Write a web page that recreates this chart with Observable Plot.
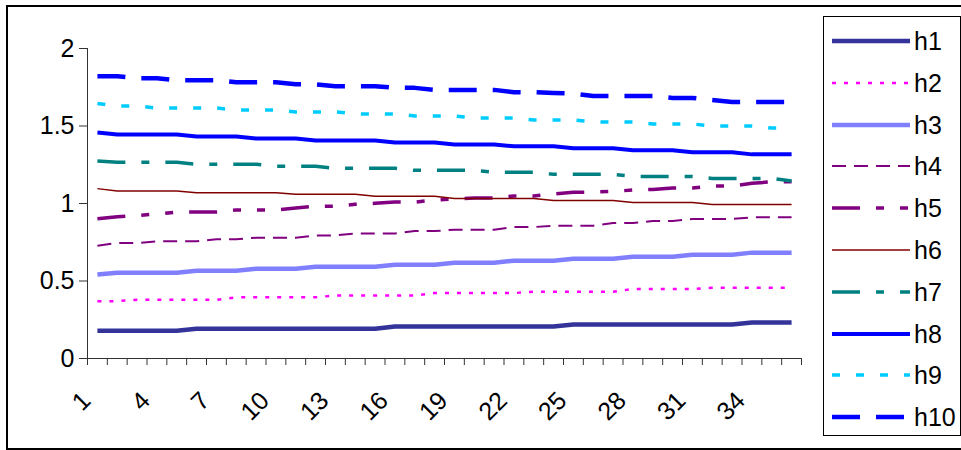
<!DOCTYPE html>
<html><head><meta charset="utf-8">
<script src="https://cdn.jsdelivr.net/npm/d3@7"></script>
<script src="https://cdn.jsdelivr.net/npm/@observablehq/plot@0.6"></script>
<style>
body{margin:0;background:#fff;}
#wrap{position:relative;width:961px;height:450px;overflow:hidden;font-family:"Liberation Sans",Arial,sans-serif;}
#outer{position:absolute;left:6px;top:5px;width:1000px;height:445px;border:2px solid #000;box-sizing:border-box;pointer-events:none;}
#chart{position:absolute;left:0;top:0;}
#legend{position:absolute;left:823px;top:16px;width:138px;height:420px;border:1px solid #000;box-sizing:border-box;background:#fff;}
.item{position:absolute;left:0;height:30px;}
.item svg{position:absolute;left:7px;top:0;}
.item span{position:absolute;left:90px;top:0;line-height:30px;font-size:25px;color:#000;}
</style></head>
<body><div id="wrap"><div id="chart"></div><div id="legend"></div><div id="outer"></div></div>
<script>
const categories = [1,2,3,4,5,6,7,8,9,10,11,12,13,14,15,16,17,18,19,20,21,22,23,24,25,26,27,28,29,30,31,32,33,34,35,36];
const xTickLabels = [1,4,7,10,13,16,19,22,25,28,31,34];
const yTicks = [0,0.5,1,1.5,2];
const seriesNames = ["h1","h2","h3","h4","h5","h6","h7","h8","h9","h10"];

const h1 = [0.179,0.179,0.179,0.179,0.179,0.192,0.192,0.192,0.192,0.192,0.192,0.192,0.192,0.192,0.192,0.207,0.207,0.207,0.207,0.207,0.207,0.207,0.207,0.207,0.220,0.220,0.220,0.220,0.220,0.220,0.220,0.220,0.220,0.232,0.232,0.232];
const h2 = [0.370,0.370,0.379,0.379,0.379,0.379,0.379,0.395,0.395,0.395,0.395,0.395,0.407,0.407,0.407,0.407,0.407,0.422,0.422,0.422,0.422,0.422,0.431,0.431,0.431,0.431,0.431,0.448,0.448,0.448,0.448,0.457,0.457,0.457,0.457,0.457];
const h3 = [0.542,0.553,0.553,0.553,0.553,0.566,0.566,0.566,0.579,0.579,0.579,0.592,0.592,0.592,0.592,0.605,0.605,0.605,0.618,0.618,0.618,0.631,0.631,0.631,0.644,0.644,0.644,0.657,0.657,0.657,0.670,0.670,0.670,0.683,0.683,0.683];
const h4 = [0.728,0.745,0.745,0.756,0.756,0.756,0.770,0.770,0.779,0.779,0.779,0.794,0.794,0.807,0.807,0.807,0.822,0.822,0.831,0.831,0.831,0.848,0.848,0.857,0.857,0.857,0.874,0.874,0.887,0.887,0.900,0.900,0.900,0.911,0.911,0.911];
const h5 = [0.902,0.914,0.923,0.932,0.945,0.945,0.945,0.958,0.958,0.958,0.971,0.982,0.982,0.995,1.001,1.009,1.009,1.022,1.030,1.035,1.035,1.048,1.048,1.062,1.072,1.074,1.078,1.087,1.091,1.100,1.100,1.113,1.113,1.130,1.140,1.140];
const h6 = [1.096,1.080,1.080,1.080,1.080,1.070,1.070,1.070,1.070,1.070,1.059,1.059,1.059,1.059,1.046,1.046,1.046,1.046,1.033,1.033,1.033,1.033,1.033,1.020,1.020,1.020,1.020,1.007,1.007,1.007,1.007,0.994,0.994,0.994,0.994,0.994];
const h7 = [1.274,1.266,1.266,1.266,1.266,1.253,1.253,1.253,1.253,1.240,1.240,1.240,1.227,1.227,1.227,1.227,1.214,1.214,1.214,1.214,1.201,1.201,1.201,1.188,1.188,1.188,1.188,1.175,1.175,1.175,1.175,1.162,1.162,1.162,1.162,1.145];
const h8 = [1.458,1.445,1.445,1.445,1.445,1.432,1.432,1.432,1.419,1.419,1.419,1.406,1.406,1.406,1.406,1.393,1.393,1.393,1.380,1.380,1.380,1.369,1.369,1.369,1.356,1.356,1.356,1.343,1.343,1.343,1.330,1.330,1.330,1.317,1.317,1.317];
const h9 = [1.645,1.629,1.629,1.616,1.616,1.616,1.616,1.603,1.603,1.603,1.591,1.591,1.591,1.578,1.578,1.578,1.565,1.565,1.565,1.552,1.552,1.552,1.539,1.539,1.539,1.526,1.526,1.526,1.513,1.513,1.513,1.500,1.500,1.500,1.487,1.487];
const h10 = [1.821,1.821,1.808,1.808,1.795,1.795,1.795,1.782,1.782,1.782,1.769,1.769,1.757,1.757,1.757,1.746,1.746,1.733,1.733,1.733,1.733,1.718,1.718,1.713,1.709,1.694,1.694,1.694,1.694,1.681,1.681,1.668,1.655,1.655,1.655,1.655];

const seriesValues = [h1,h2,h3,h4,h5,h6,h7,h8,h9,h10];

const styles = {
  h1:{stroke:"#333399", width:4.5, dash:null},
  h2:{stroke:"#FF00FF", width:2.5, dash:"4,8"},
  h3:{stroke:"#8080FF", width:4.5, dash:null},
  h4:{stroke:"#800080", width:2, dash:"14,8"},
  h5:{stroke:"#800080", width:3.5, dash:"28,16,8,16,8,16"},
  h6:{stroke:"#800000", width:1.5, dash:null},
  h7:{stroke:"#008080", width:3.5, dash:"28,16,8,16"},
  h8:{stroke:"#0000FF", width:4, dash:null},
  h9:{stroke:"#00CCFF", width:3.5, dash:"8,16"},
  h10:{stroke:"#0000FF", width:4.5, dash:"28,16"}
};

const rows = seriesNames.flatMap((name, i) => categories.map((c, j) => ({series: name, x: c, y: seriesValues[i][j]})));
const boundaries = categories.map(c => c - 0.5).concat([categories[categories.length - 1] + 0.5]);

const plot = Plot.plot({
  width: 961, height: 450,
  marginLeft: 87, marginRight: 160, marginTop: 48, marginBottom: 92,
  style: {fontFamily: "'Liberation Sans', Arial, sans-serif", fontSize: "25px", background: "transparent", color: "#000"},
  x: {type: "linear", domain: [boundaries[0], boundaries[boundaries.length - 1]], label: null},
  y: {domain: [0, 2], label: null},
  marks: [
    Plot.ruleY([0], {stroke: "#333", strokeWidth: 1}),
    Plot.ruleX([boundaries[0]], {stroke: "#333", strokeWidth: 1}),
    Plot.axisY({ticks: yTicks, tickSize: 8, tickPadding: 5, tickFormat: d => String(d), stroke: "#333", fill: "#000", label: null}),
    Plot.axisX({ticks: boundaries, tickSize: 7, tickFormat: () => "", stroke: "#333", label: null}),
    Plot.axisX({ticks: xTickLabels, tickSize: 0, tickPadding: 28, tickRotate: -45, tickFormat: d => String(d), fill: "#000", label: null, dx: -11, dy: 10}),
    ...seriesNames.map(name => Plot.line(rows.filter(d => d.series === name), {
      x: "x", y: "y",
      stroke: styles[name].stroke,
      strokeWidth: styles[name].width,
      strokeDasharray: styles[name].dash,
      strokeLinecap: "butt",
      strokeLinejoin: "round"
    }))
  ]
});
document.getElementById("chart").appendChild(plot);

const legend = document.getElementById("legend");
seriesNames.forEach((name, i) => {
  const s = styles[name];
  const item = document.createElement("div");
  item.className = "item";
  item.style.top = (9 + i * 41.8) + "px";
  item.innerHTML = `<svg width="80" height="30"><line x1="1" x2="79" y1="15" y2="15" stroke="${s.stroke}" stroke-width="${s.width}" ${s.dash ? `stroke-dasharray="${s.dash}"` : ""} stroke-linecap="butt"/></svg><span>${name}</span>`;
  legend.appendChild(item);
});
</script></body></html>
